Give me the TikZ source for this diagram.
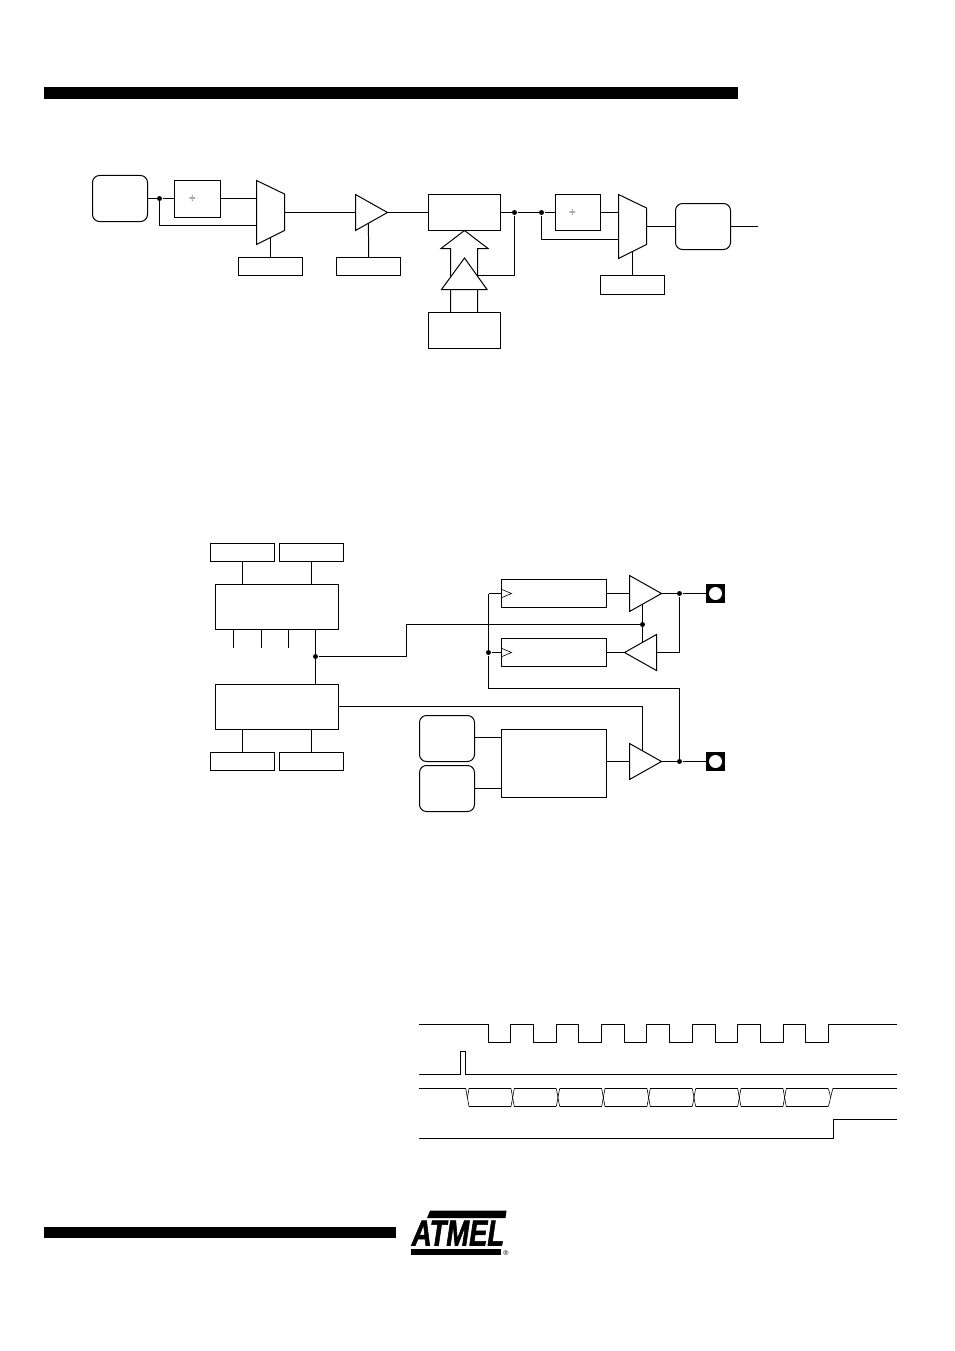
\documentclass[tikz,border=0pt]{standalone}
\usepackage{fontspec}
\setmainfont{Liberation Sans}
\newfontfamily\logofont[BoldItalicFeatures={FakeBold=2}]{Liberation Sans}
\usepackage{tikz}
\usetikzlibrary{calc}
\tikzset{
	every path/.style={line width=1pt},
	blockbox/.style={shape=rectangle,draw,inner sep=0pt,outer sep=0pt,minimum width=#1},
	blockbox/.default=72pt,
	clockbox/.style={shape=rectangle,draw,rounded corners=7pt,inner sep=0pt,outer sep=0pt,minimum width=55pt,minimum height=46pt},
	tagbox/.style={shape=rectangle,draw,inner sep=0pt,outer sep=0pt,minimum width=64pt,minimum height=18pt},
	junction/.style={shape=circle,fill=black,inner sep=0pt,minimum size=5pt},
	padbox/.style={shape=rectangle,fill=black,inner sep=0pt,minimum size=19pt},
	padhole/.style={shape=circle,fill=white,inner sep=0pt,minimum size=13pt},
	divtext/.style={inner sep=0pt,font=\fontsize{12}{12}\selectfont,text=black!75},
	bar/.style={fill=black,draw=none},
	thinedge/.style={line width=0.6pt}
}
\newcommand{\drawmuxtwo}[2]{
	\draw[shift={#1}] (0,0) -- (28,13.5) -- (28,50) -- (0,64) -- cycle;
	\coordinate (#2a) at ($#1+(0,18)$);
	\coordinate (#2b) at ($#1+(0,45)$);
	\coordinate (#2o) at ($#1+(28,32)$);
	\coordinate (#2s) at ($#1+(14,57)$);
}
\newcommand{\drawbuffer}[3]{
	\draw[shift={#1}] (0,-18) -- (#3,0) -- (0,18) -- cycle;
	\coordinate (#2i) at #1;
	\coordinate (#2o) at ($#1+(#3,0)$);
	\coordinate (#2t) at ($#1+(0.406*#3,-10.7)$);
	\coordinate (#2u) at ($#1+(0.406*#3,10.7)$);
}
\newcommand{\drawclockmark}[1]{
	\draw[thinedge] ($(#1.west)+(0.5,-4)$) -- ++(9.5,4) -- ++(-9.5,4);
}
\begin{document}
\begin{tikzpicture}[x=1pt,y=-1pt]
	\useasboundingbox (0,0) rectangle (954,1351);
	\fill[bar] (44,87) rectangle (738,99);
	\fill[bar] (44,1227) rectangle (396,1238);

	\node[clockbox] (osca) at (120,198.5) {};
	\node[blockbox=46pt,minimum height=37pt] (diva) at (197.5,199) {};
	\node[divtext] (divatext) at (192.5,199.5) {÷};
	\node[junction] (ja) at (159.5,198.5) {};
	\drawmuxtwo{(256.5,180.5)}{ma}
	\drawbuffer{(355.5,212.5)}{ba}{32}
	\node[tagbox] (taga) at (270.5,266.5) {};
	\node[tagbox] (tagb) at (368.5,266.5) {};
	\node[blockbox,minimum height=36pt] (main) at (464.5,212.5) {};
	\node[blockbox,minimum height=36pt] (lower) at (464.5,330.5) {};
	\node[junction] (jb) at (514.5,212.5) {};
	\node[junction] (jc) at (541.5,212.5) {};
	\node[blockbox=45pt,minimum height=36pt] (divb) at (578,212.5) {};
	\node[divtext] (divbtext) at (572.5,213.5) {÷};
	\drawmuxtwo{(618.5,194.5)}{mb}
	\node[tagbox,minimum height=19pt] (tagc) at (632.5,285) {};
	\node[clockbox] (oscb) at (703,226.5) {};
	\coordinate (outa) at (758,226.5);
	\coordinate (fb) at (476.5,275.5);

	\draw (osca.east |- ja) -- (ja) -- (ja -| diva.west);
	\draw (diva.east |- maa) -- (maa);
	\draw (ja) |- (mab);
	\draw (mas) -- (taga);
	\draw (mao) -- (bai);
	\draw (bau) -- (tagb);
	\draw (bao) -- (main);
	\draw (main) -- (jb) -- (jc) -- (divb);
	\draw (divb) -- (mba);
	\draw (jc) |- (mbb);
	\draw (mbs) -- (tagc);
	\draw (mbo) -- (oscb);
	\draw (oscb) -- (outa);
	\draw (jb) |- (fb);

	\draw (450.5,312.5) -- (450.5,248.5) -- (441,248.5) -- (464.5,230.5) -- (488,248.5) -- (477.5,248.5) -- (477.5,312.5);
	\draw[fill=white] (464.5,258) -- (487,289.5) -- (441.5,289.5) -- cycle;

	\node[tagbox] (tagd) at (242.5,552.5) {};
	\node[tagbox] (tage) at (311.5,552.5) {};
	\node[blockbox=123pt,minimum height=45pt] (ctla) at (277,607) {};
	\node[blockbox=123pt,minimum height=45pt] (ctlb) at (277,707) {};
	\node[tagbox] (tagf) at (242.5,761.5) {};
	\node[tagbox] (tagg) at (311.5,761.5) {};
	\node[junction] (jd) at (315.5,656.5) {};
	\draw (tagd) -- (tagd |- ctla.north);
	\draw (tage) -- (tage |- ctla.north);
	\draw (tagf) -- (tagf |- ctlb.south);
	\draw (tagg) -- (tagg |- ctlb.south);
	\foreach \i/\x in {a/233.5,b/261.5,c/288.5} {
		\coordinate (st\i) at (\x,647.5);
		\draw (st\i) -- (st\i |- ctla.south);
	}
	\draw (jd |- ctla.south) -- (jd |- ctlb.north);

	\node[blockbox=105pt,minimum height=28pt] (ffa) at (554,593.5) {};
	\node[blockbox=105pt,minimum height=28pt] (ffb) at (554,652.5) {};
	\node[blockbox=105pt,minimum height=68pt] (gen) at (554,763.5) {};
	\drawclockmark{ffa}
	\drawclockmark{ffb}
	\drawbuffer{(629.5,593.5)}{bb}{32}
	\drawbuffer{(656.5,652.5)}{bc}{-32}
	\drawbuffer{(629.5,761.5)}{bd}{32}
	\node[clockbox] (oscc) at (447,738.5) {};
	\node[clockbox] (oscd) at (447,788.5) {};
	\node[padbox] (pada) at (715.5,593.5) {};
	\node[padhole] (holea) at (pada) {};
	\node[padbox] (padb) at (715.5,761.5) {};
	\node[padhole] (holeb) at (padb) {};
	\node[junction] (je) at (679.5,593.5) {};
	\node[junction] (jf) at (679.5,761.5) {};
	\node[junction] (jg) at (642.5,624.5) {};
	\node[junction] (jh) at (488.5,652.5) {};
	\coordinate (ka) at (406.5,656.5);
	\coordinate (kb) at (488.5,593.5);
	\coordinate (kc) at (488.5,688.5);
	\coordinate (kd) at (642.5,706.5);

	\draw (jd) -- (ka) |- (jg);
	\draw (bbu) -- (bbu |- bct);
	\draw (ctlb.east |- kd) -- (kd) -- (kd |- bdt);
	\draw (ffa) -- (bbi);
	\draw (bbo) -- (je) -- (pada);
	\draw (bco) -- (ffb);
	\draw (bci) -| (je);
	\draw (kb) -- (ffa.west |- kb);
	\draw (jh) -- (ffb.west |- jh);
	\draw (kb) -- (jh) -- (kc) -| (jf);
	\draw (oscc.east |- 0,737.5) -- (gen.west |- 0,737.5);
	\draw (oscd) -- (gen.west |- oscd);
	\draw (gen.east |- bdi) -- (bdi);
	\draw (bdo) -- (jf) -- (padb);

	\draw (419,1024.5) \foreach \a/\b in {488.5/510.5,533.5/556.5,578.5/601.5,624.5/646.5,669.5/692.5,715.5/737.5,760.5/783.5,805.5/828.5} {
		-- (\a,1024.5) -- (\a,1042.5) -- (\b,1042.5) -- (\b,1024.5)
	} -- (897,1024.5);
	\draw (419,1074.5) -- (460.5,1074.5) -- (460.5,1051.5) -- (465.5,1051.5) -- (465.5,1074.5) -- (897,1074.5);
	\draw (419,1088.5) -- (465.7,1088.5);
	\draw[thinedge] (465.7,1088.5) -- (469,1106.5);
	\draw[thinedge] (469,1088.5) -- (467.4,1097.5);
	\foreach \i in {0,...,7} {
		\draw (469+45.33*\i,1088.5) -- (511+45.33*\i,1088.5);
		\draw (469+45.33*\i,1106.5) -- (511+45.33*\i,1106.5);
	}
	\foreach \i in {0,...,6} {
		\draw[thinedge] (511+45.33*\i,1088.5) -- (514.3+45.33*\i,1106.5);
		\draw[thinedge] (511+45.33*\i,1106.5) -- (514.3+45.33*\i,1088.5);
	}
	\draw[thinedge] (828.4,1106.5) -- (832.8,1088.5);
	\draw[thinedge] (828.4,1088.5) -- (830.6,1097.5);
	\draw (832.8,1088.5) -- (897,1088.5);
	\draw (419,1138.5) -- (833.5,1138.5) -- (833.5,1119.5) -- (897,1119.5);

	\fill[bar] (430,1210.7) -- (506.5,1210.7) -- (505.5,1218) -- (427,1218) -- cycle;
	\node[inner sep=0pt,font=\logofont\fontsize{36}{36}\selectfont\bfseries\itshape,xscale=0.76] (logo) at (458,1233) {ATMEL};
	\fill[bar] (411,1248.5) rectangle (500.7,1255);
	\node[inner sep=0pt,font=\fontsize{7}{7}\selectfont] (logomark) at (506,1253) {®};
\end{tikzpicture}
\end{document}
